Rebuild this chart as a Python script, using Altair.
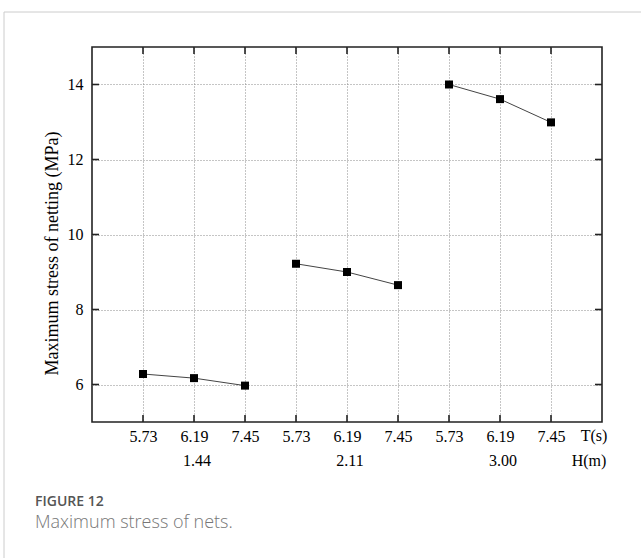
import altair as alt
import pandas as pd

# ---- data ----
H_values = ["1.44", "2.11", "3.00"]          # wave height groups H(m)
T_values = ["5.73", "6.19", "7.45"]          # wave periods T(s) within each group
stress_H144 = [6.28, 6.17, 5.97]
stress_H211 = [9.22, 9.00, 8.65]
stress_H300 = [14.00, 13.61, 12.99]
y_ticks = [6, 8, 10, 12, 14]
y_title = "Maximum stress of netting (MPa)"
caption_head = "FIGURE 12"
caption_text = "Maximum stress of nets."

rows = []
for g, (h, vals) in enumerate(zip(H_values, [stress_H144, stress_H211, stress_H300])):
    for j, (t, v) in enumerate(zip(T_values, vals)):
        rows.append({"pos": g * 3 + j + 1, "H": h, "T": t, "stress": v})
df = pd.DataFrame(rows)

h_df = pd.DataFrame({"pos": [g * 3 + 2 for g in range(len(H_values))], "H": H_values})
ytick_df = pd.DataFrame({"stress": y_ticks})
xtick_df = df[["pos"]]

label_expr = "[" + ",".join("'%s'" % t for t in df["T"]) + "][datum.value - 1]"

W, H = 510, 375
SERIF = "Liberation Serif"
LBL = 16

xs = alt.Scale(domain=[0, 10], nice=False, zero=False)
ys = alt.Scale(domain=[5, 15], nice=False, zero=False)

x_axis = alt.Axis(
    values=list(df["pos"]), labelExpr=label_expr, grid=True, gridDash=[1, 2],
    gridColor="#8a8a8a", gridWidth=1, ticks=False, tickSize=0, domain=False,
    labelFont=SERIF, labelFontSize=LBL, labelColor="black", labelPadding=14,
    labelBaseline="middle", title=None,
)
y_axis = alt.Axis(
    values=y_ticks, grid=True, gridDash=[1, 2], gridColor="#8a8a8a", gridWidth=1,
    ticks=False, tickSize=0, domain=False, labelFont=SERIF, labelFontSize=LBL,
    labelColor="black", labelPadding=9, title=y_title, titleFont=SERIF,
    titleFontSize=18, titleFontWeight="normal", titleColor="black",
    titleX=-40, titleY=206, titleAngle=270, titleAlign="center",
    titleBaseline="middle",
)

points = alt.Chart(df).mark_square(size=64, color="black", opacity=1).encode(
    x=alt.X("pos:Q", scale=xs, axis=x_axis),
    y=alt.Y("stress:Q", scale=ys, axis=y_axis),
)
lines = alt.Chart(df).mark_line(color="#444444", strokeWidth=1).encode(
    x=alt.X("pos:Q", scale=xs),
    y=alt.Y("stress:Q", scale=ys),
    detail="H:N",
)

tick_style = dict(color="#222222", strokeWidth=1.6)
ticks_bottom = alt.Chart(xtick_df).mark_rule(**tick_style).encode(
    x=alt.X("pos:Q", scale=xs), y=alt.value(H), y2=alt.value(H - 7))
ticks_top = alt.Chart(xtick_df).mark_rule(**tick_style).encode(
    x=alt.X("pos:Q", scale=xs), y=alt.value(0), y2=alt.value(7))
ticks_left = alt.Chart(ytick_df).mark_rule(**tick_style).encode(
    y=alt.Y("stress:Q", scale=ys), x=alt.value(0), x2=alt.value(7))
ticks_right = alt.Chart(ytick_df).mark_rule(**tick_style).encode(
    y=alt.Y("stress:Q", scale=ys), x=alt.value(W), x2=alt.value(W - 7))

h_labels = alt.Chart(h_df).mark_text(
    font=SERIF, fontSize=LBL, color="black", baseline="middle", dx=3
).encode(x=alt.X("pos:Q", scale=xs), y=alt.value(414), text="H:N")

t_unit = alt.Chart(pd.DataFrame({"t": ["T(s)"]})).mark_text(
    font=SERIF, fontSize=LBL, color="black", baseline="middle", align="center"
).encode(x=alt.value(502), y=alt.value(389), text="t:N")
h_unit = alt.Chart(pd.DataFrame({"t": ["H(m)"]})).mark_text(
    font=SERIF, fontSize=LBL, color="black", baseline="middle", align="center"
).encode(x=alt.value(497), y=alt.value(414), text="t:N")

cap1 = alt.Chart(pd.DataFrame({"t": [caption_head]})).mark_text(
    font="Open Sans", fontSize=14, fontWeight=600, color="#555555",
    align="left", baseline="alphabetic"
).encode(x=alt.value(-57), y=alt.value(459), text="t:N")
cap2 = alt.Chart(pd.DataFrame({"t": [caption_text]})).mark_text(
    font="Open Sans", fontSize=18, fontWeight=300, color="#777777",
    align="left", baseline="alphabetic"
).encode(x=alt.value(-57), y=alt.value(481), text="t:N")

border_v = alt.Chart(pd.DataFrame({"a": [0]})).mark_rule(color="#cccccc", strokeWidth=1).encode(
    x=alt.value(-88), y=alt.value(-35), y2=alt.value(H + 136))
border_h = alt.Chart(pd.DataFrame({"a": [0]})).mark_rule(color="#cccccc", strokeWidth=1).encode(
    x=alt.value(-88), x2=alt.value(W + 39), y=alt.value(-35))

chart = alt.layer(
    border_v, border_h, lines, points, ticks_bottom, ticks_top, ticks_left,
    ticks_right, h_labels, t_unit, h_unit, cap1, cap2,
).properties(
    width=W, height=H,
    autosize=alt.AutoSizeParams(type="none"),
    padding={"left": 92, "top": 47, "right": 39, "bottom": 136},
    background="white",
).configure_view(stroke="#222222", strokeWidth=1.6)

chart.save("out.html", embed_options={"renderer": "svg", "actions": False})
